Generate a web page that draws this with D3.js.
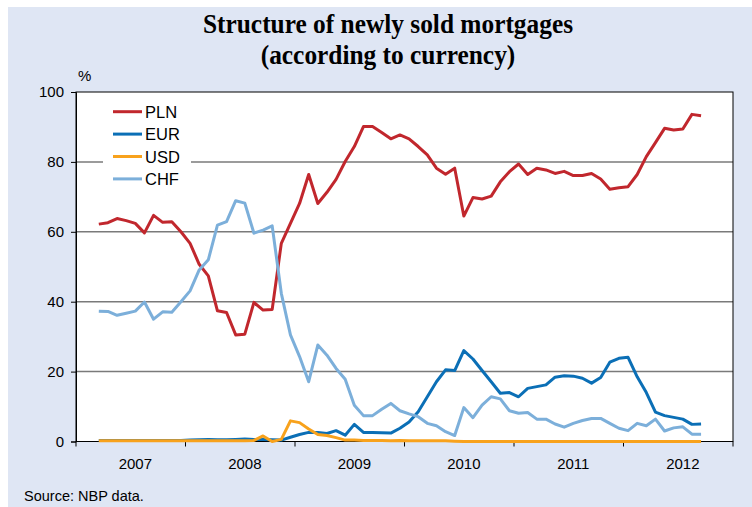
<!DOCTYPE html>
<html><head><meta charset="utf-8">
<script src="https://cdn.jsdelivr.net/npm/d3@7"></script>
<style>body{margin:0;background:#fff}svg{display:block}</style>
</head><body>
<svg id="chart" width="752" height="507"></svg>
<script>
// ---- data (monthly, Mar 2007 – Sep 2012) ----
const firstMonth = new Date(2007, 2, 1);
const lastMonth = new Date(2012, 8, 1);
const years = ["2007", "2008", "2009", "2010", "2011", "2012"];
const yTicks = [0, 20, 40, 60, 80, 100];
const seriesNames = ["PLN", "EUR", "USD", "CHF"];
const PLN = [62.2,62.6,63.8,63.2,62.4,59.7,64.7,62.7,62.9,60.0,56.7,50.7,47.4,37.4,36.9,30.5,30.7,39.8,37.6,37.8,
  56.7,62.4,68.1,76.4,68.1,71.3,75.0,80.1,84.4,90.1,90.1,88.4,86.6,87.7,86.6,84.4,82.0,78.2,76.5,78.2,
  64.5,69.8,69.4,70.2,74.3,77.2,79.4,76.4,78.2,77.7,76.7,77.3,76.1,76.1,76.7,75.1,72.2,72.6,72.9,76.4,
  81.5,85.5,89.6,89.1,89.4,93.6,93.2];
const EUR = [0.3,0.3,0.3,0.3,0.3,0.3,0.3,0.3,0.3,0.3,0.4,0.5,0.6,0.5,0.5,0.6,0.7,0.6,0.6,0.5,
  0.4,1.2,2.0,2.6,2.6,2.3,3.1,1.8,4.9,2.6,2.6,2.5,2.4,3.8,5.6,8.5,12.8,17.1,20.5,20.3,
  26.0,23.6,20.3,17.1,13.8,14.0,12.8,15.2,15.7,16.2,18.4,18.8,18.7,18.1,16.7,18.3,22.7,23.8,24.1,18.5,
  14.0,8.4,7.4,6.9,6.4,4.9,5.0];
const USD = [0.2,0.2,0.2,0.2,0.2,0.2,0.2,0.2,0.2,0.2,0.2,0.2,0.2,0.2,0.2,0.2,0.2,0.3,1.6,0.0,
  0.6,5.9,5.4,3.6,2.0,1.7,1.1,0.4,0.4,0.3,0.3,0.3,0.2,0.3,0.2,0.2,0.2,0.2,0.2,0.1,
  0,0,0,0,0,0,0,0,0,0,0,0,0,0,0,0,0,0,0,0,
  0,0,0,0,0,0,0];
const CHF = [37.3,37.2,36.1,36.7,37.3,39.9,35.0,37.1,37.0,40.0,43.1,49.1,52.0,61.9,62.9,68.9,68.2,59.6,60.5,61.7,
  42.4,30.5,24.3,17.1,27.6,24.7,20.9,17.8,10.4,7.4,7.4,9.2,10.9,8.8,7.9,7.1,5.2,4.5,2.8,1.7,
  9.7,6.8,10.4,12.8,12.2,8.8,8.1,8.3,6.4,6.4,5.0,4.1,5.2,6.0,6.6,6.6,5.2,3.8,3.1,5.2,
  4.5,6.4,3.0,3.9,4.2,2.1,2.1];
const colors = {PLN: "#c1272d", EUR: "#0b6fb6", USD: "#f8a21c", CHF: "#7cafda"};
const values = {PLN, EUR, USD, CHF};

// ---- layout ----
const svg = d3.select("#chart");
const L = 76, R = 733, T = 92, B = 441.5;
svg.append("rect").attr("x", 8).attr("y", 7).attr("width", 744).attr("height", 500).attr("fill", "#dfe6f4");
svg.append("rect").attr("x", L).attr("y", T).attr("width", R - L).attr("height", B - T).attr("fill", "#fff");

const months = d3.timeMonths(firstMonth, d3.timeMonth.offset(lastMonth, 1));
const allMonths = d3.timeMonths(new Date(2007, 0, 1), new Date(2013, 0, 1));
const x = d3.scaleBand().domain(allMonths.map(d => +d)).range([L, R]).padding(0);
const xc = d => x(+d) + x.bandwidth() / 2;
const y = d3.scaleLinear().domain([0, 100]).range([B, T]);

// grid
svg.append("g").selectAll("line").data(yTicks.filter(v => v > 0 && v < 100)).join("line")
  .attr("x1", L).attr("x2", R).attr("y1", d => y(d)).attr("y2", d => y(d))
  .attr("stroke", "#7a7a7a").attr("stroke-width", 1.5);

// frame
svg.append("rect").attr("x", L).attr("y", T).attr("width", R - L).attr("height", B - T)
  .attr("fill", "none").attr("stroke", "#000").attr("stroke-width", 1);

// y axis
const yAxis = d3.axisLeft(y).tickValues(yTicks).tickSize(5).tickPadding(7);
const gy = svg.append("g").attr("transform", `translate(${L},0)`).call(yAxis);
gy.select(".domain").attr("stroke", "#000");
gy.selectAll("text").attr("font-family", "Liberation Sans, Arial, sans-serif").attr("font-size", 15).attr("fill", "#000");

// x axis ticks at year boundaries
const yearStarts = years.map(yy => new Date(+yy, 0, 1));
const tickXs = yearStarts.map(d => x(+d)).concat([R]);
svg.append("g").selectAll("line").data(tickXs).join("line")
  .attr("x1", d => d).attr("x2", d => d).attr("y1", B).attr("y2", B + 5).attr("stroke", "#000");
svg.append("g").selectAll("text").data(years).join("text")
  .attr("x", yy => xc(new Date(+yy, 6, 1))).attr("y", 469)
  .attr("text-anchor", "middle").attr("font-family", "Liberation Sans, Arial, sans-serif")
  .attr("font-size", 15).text(d => d);

// lines
const line = d3.line().x((d, i) => xc(months[i])).y(d => y(d));
const drawOrder = ["PLN", "EUR", "USD", "CHF"];
drawOrder.forEach(k => {
  svg.append("path").datum(values[k]).attr("d", line).attr("fill", "none")
    .attr("stroke", colors[k]).attr("stroke-width", 3).attr("stroke-linejoin", "round");
});

// legend
svg.append("rect").attr("x", 103).attr("y", 100).attr("width", 88).attr("height", 90).attr("fill", "#fff");
const lg = svg.append("g").selectAll("g").data(seriesNames).join("g")
  .attr("transform", (d, i) => `translate(0,${111.7 + i * 22.4})`);
lg.append("line").attr("x1", 113).attr("x2", 142).attr("stroke", d => colors[d]).attr("stroke-width", 3);
lg.append("text").attr("x", 145).attr("y", 6).attr("font-family", "Liberation Sans, Arial, sans-serif")
  .attr("font-size", 16.5).text(d => d);

// texts
svg.append("text").attr("x", 78).attr("y", 81).attr("font-family", "Liberation Sans, Arial, sans-serif")
  .attr("font-size", 15).text("%");
const title = svg.append("text").attr("text-anchor", "middle").attr("font-family", "Liberation Serif, Times New Roman, serif")
  .attr("font-weight", "bold").attr("font-size", 27)
  .attr("transform", "translate(388,0) scale(0.94,1)");
title.append("tspan").attr("x", 0).attr("y", 33).text("Structure of newly sold mortgages");
title.append("tspan").attr("x", 0).attr("y", 64).text("(according to currency)");
svg.append("text").attr("x", 24).attr("y", 501).attr("font-family", "Liberation Sans, Arial, sans-serif")
  .attr("font-size", 14.5).text("Source: NBP data.");
</script>
</body></html>
